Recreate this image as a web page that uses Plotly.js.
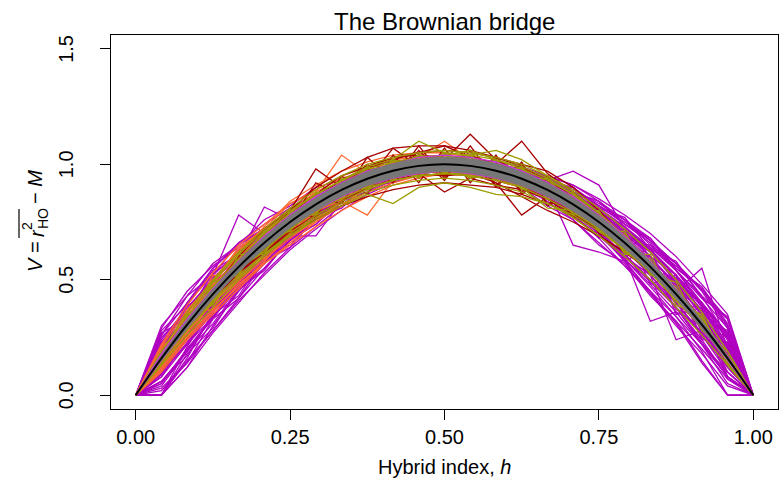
<!DOCTYPE html>
<html><head><meta charset="utf-8">
<script src="https://cdn.plot.ly/plotly-3.0.1.min.js"></script>
<style>body{margin:0;background:#fff}#plot{width:779px;height:485px}</style>
</head><body><div id="plot"></div>
<script>
// hybrid index grid (k/24)
const h = [0,0.0417,0.0833,0.125,0.1667,0.2083,0.25,0.2917,0.3333,0.375,0.4167,0.4583,0.5,0.5417,0.5833,0.625,0.6667,0.7083,0.75,0.7917,0.8333,0.875,0.9167,0.9583,1];
// expected curve and grey envelope
const expected = [0,0.1597,0.3056,0.4375,0.5556,0.6597,0.75,0.8264,0.8889,0.9375,0.9722,0.9931,1,0.9931,0.9722,0.9375,0.8889,0.8264,0.75,0.6597,0.5556,0.4375,0.3056,0.1597,0];
const bandUpper = [0,0.172,0.325,0.46,0.58,0.686,0.778,0.855,0.919,0.969,1.004,1.025,1.033,1.025,1.004,0.969,0.919,0.855,0.778,0.686,0.58,0.46,0.325,0.172,0];
const bandLower = [0,0.148,0.287,0.415,0.531,0.633,0.722,0.797,0.859,0.906,0.94,0.96,0.967,0.96,0.94,0.906,0.859,0.797,0.722,0.633,0.531,0.415,0.287,0.148,0];

const purplePaths = [
[0,0,.21,.38,.51,.62,.72,.81,.88,.94,.98,1.00,1.02,1.01,.98,.94,.88,.80,.70,.59,.47,.34,.19,0,0],
[0,.28,.39,.54,.61,.72,.78,.85,.91,.95,.99,1.00,1.01,1.01,.98,.96,.92,.88,.79,.73,.62,.52,.36,.20,0],
[0,.20,.30,.52,.78,.70,.74,.82,.90,.95,.98,1.00,1.01,1.00,.98,.95,.90,.84,.76,.66,.55,.43,.30,.15,0],
[0,.12,.28,.45,.60,.815,.76,.84,.89,.93,.97,.99,1.00,.99,.97,.93,.88,.82,.74,.64,.52,.40,.26,.10,0],
[0,.18,.33,.47,.58,.68,.77,.84,.90,.94,.97,.99,1.00,.99,.97,.94,.90,.83,.72,.60,.32,.36,.30,.12,0],
[0,.10,.25,.40,.53,.64,.73,.81,.88,.93,.96,.99,.99,.98,.96,.93,.88,.81,.73,.63,.52,.24,.28,.14,0],
[0,.14,.30,.42,.55,.65,.74,.82,.88,.93,.96,.98,.99,.98,.96,.93,.89,.84,.77,.68,.58,.45,.55,.20,0],
[0,.16,.32,.46,.57,.67,.76,.84,.90,.95,.98,1.00,1.01,1.00,.99,.96,.93,.97,.91,.72,.60,.47,.33,.18,0],
[0,.22,.36,.50,.60,.70,.79,.86,.92,.96,.99,1.01,1.02,1.01,.99,.96,.90,.65,.62,.58,.50,.40,.27,.13,0],
[0,.26,.40,.52,.62,.71,.77,.85,.90,.94,.96,.98,.99,.98,.96,.92,.87,.80,.73,.64,.55,.47,.36,.27,0],
[0,.05,.20,.33,.48,.60,.70,.79,.86,.92,.96,.98,.99,.99,.97,.94,.90,.85,.78,.70,.60,.48,.35,.20,0],
[0,.18,.40,.55,.65,.72,.80,.85,.90,.94,.97,.99,1.00,.99,.96,.93,.88,.82,.74,.66,.57,.46,.33,.28,0],
[0,.13,.26,.36,.50,.60,.69,.69,.84,.92,.96,.98,.99,.98,.95,.91,.86,.79,.71,.61,.50,.38,.24,.08,0],
[0,0,.16,.36,.48,.58,.70,.80,.87,.92,.95,.98,1.00,1.00,.98,.95,.91,.86,.80,.72,.63,.52,.38,.22,0],
[0,.20,.35,.42,.58,.69,.73,.81,.90,.95,.99,1.01,1.01,1.00,.98,.95,.90,.85,.76,.67,.58,.49,.40,.24,0],
[0,.15,.29,.49,.54,.63,.78,.84,.88,.93,.97,.99,1.00,.99,.97,.94,.91,.88,.80,.72,.62,.50,.34,.19,0],
[0,.24,.38,.50,.63,.72,.80,.86,.91,.95,.98,1.00,1.01,1.00,.98,.95,.90,.85,.79,.71,.63,.52,.40,.24,0],
[0,.08,.22,.36,.47,.58,.68,.77,.85,.91,.95,.98,.99,.98,.95,.91,.85,.78,.69,.59,.48,.36,.22,.08,0],
[0,.21,.33,.49,.57,.70,.76,.85,.89,.95,.97,1.00,1.00,.99,.96,.95,.88,.86,.74,.70,.55,.49,.30,.22,0],
[0,.11,.28,.39,.53,.61,.74,.79,.88,.92,.97,.98,1.00,.98,.97,.92,.90,.80,.77,.61,.58,.39,.33,.10,0],
[0,.27,.33,.51,.58,.71,.75,.86,.89,.95,.97,1.00,1.00,.99,.97,.94,.89,.84,.74,.69,.54,.51,.27,.26,0],
[0,.09,.30,.37,.55,.61,.75,.80,.89,.93,.97,.99,1.00,.98,.97,.93,.89,.81,.76,.62,.57,.37,.34,.07,0],
[0,.19,.39,.43,.62,.64,.79,.81,.91,.93,.98,.98,1.01,.99,.97,.93,.90,.82,.78,.63,.60,.41,.37,.14,0],
[0,.13,.24,.46,.50,.68,.71,.85,.87,.95,.96,1.00,.99,1.00,.96,.95,.88,.85,.72,.69,.52,.47,.25,.18,0],
[0,.25,.36,.48,.59,.67,.77,.83,.90,.94,.97,.99,1.00,.99,.97,.94,.89,.83,.76,.65,.52,.38,.22,.05,0],
[0,.06,.19,.34,.50,.63,.73,.82,.89,.94,.97,.99,1.00,.99,.97,.94,.90,.84,.78,.70,.62,.50,.39,.25,0],
[0,.17,.35,.53,.60,.66,.72,.80,.88,.93,.96,.99,.99,.98,.96,.93,.88,.80,.70,.60,.52,.49,.37,.21,0],
[0,.23,.29,.40,.52,.67,.79,.84,.90,.95,.98,1.00,1.01,1.00,.98,.95,.91,.86,.80,.70,.57,.40,.26,.12,0],
[0,.14,.33,.44,.61,.66,.76,.83,.89,.94,.97,.99,1.00,.99,.97,.94,.89,.82,.73,.66,.65,.54,.39,.19,0],
[0,0,.12,.30,.45,.57,.69,.78,.86,.92,.96,.98,.99,.98,.96,.92,.86,.79,.70,.58,.45,.31,.14,0,0],
[0,.26,.43,.52,.66,.72,.80,.87,.92,.97,.99,1.02,1.02,1.02,1.01,.99,.95,.91,.84,.76,.68,.54,.43,.25,0],
[0,.06,.19,.34,.48,.59,.69,.78,.85,.91,.95,.97,.98,.97,.94,.90,.84,.76,.66,.56,.44,.32,.20,.07,0],
[0,.22,.25,.50,.48,.72,.70,.86,.85,.96,.95,1.01,.98,1.01,.95,.97,.85,.88,.68,.72,.48,.52,.24,.23,0],
[0,.09,.36,.37,.63,.60,.80,.78,.93,.91,.99,.97,1.02,.96,.99,.91,.93,.77,.81,.58,.64,.35,.38,.08,0],
[0,.20,.40,.55,.66,.74,.81,.87,.92,.96,.98,1.00,1.00,.99,.96,.92,.86,.78,.68,.56,.45,.34,.22,.10,0],
[0,.12,.22,.34,.46,.58,.69,.78,.86,.92,.96,.98,1.00,1.00,.99,.97,.93,.88,.82,.74,.66,.54,.40,.24,0],
[0,.14,.27,.40,.52,.63,.73,.81,.87,.92,.95,.97,.98,.97,.95,.91,.86,.79,.70,.60,.49,.38,.27,.14,0],
[0,.29,.45,.56,.64,.70,.76,.83,.89,.94,.97,.99,1.00,.99,.97,.94,.89,.82,.72,.58,.44,.30,.18,.04,0],
[0,.03,.14,.28,.42,.55,.67,.78,.86,.92,.96,.98,1.00,.99,.97,.95,.92,.88,.82,.75,.67,.57,.45,.29,0],
[0,.18,.30,.38,.47,.57,.67,.76,.84,.90,.95,.98,1.00,1.00,.98,.96,.92,.86,.80,.72,.64,.56,.46,.30,0],
[0,0,.18,.29,.46,.54,.68,.74,.84,.88,.95,.96,1.00,.99,1.00,.96,.95,.88,.84,.74,.67,.55,.46,.30,0],
[0,.02,.14,.33,.42,.58,.64,.77,.81,.91,.92,.98,.98,1.01,.98,.98,.93,.90,.82,.76,.65,.57,.43,.33,0],
[0,.08,.25,.36,.52,.59,.72,.77,.87,.90,.96,.97,1.00,.99,.98,.95,.92,.85,.80,.69,.62,.49,.39,.22,0],
[0,.10,.22,.39,.48,.63,.69,.81,.85,.93,.95,.99,.99,1.00,.97,.96,.90,.87,.78,.72,.60,.52,.36,.25,0],
[0,.05,.20,.34,.47,.58,.68,.77,.84,.90,.95,.97,.99,1.00,.98,.96,.93,.87,.80,.72,.63,.52,.40,.27,0],
[0,.11,.26,.40,.52,.62,.72,.80,.87,.92,.96,.98,1.00,.99,.98,.95,.91,.85,.78,.69,.59,.48,.35,.21,0],
[0,0,.12,.27,.40,.53,.64,.73,.82,.88,.93,.97,.99,1.00,1.00,.98,.95,.91,.85,.78,.70,.60,.48,.35,0],
[0,.04,.19,.31,.46,.55,.67,.74,.85,.88,.95,.96,1.00,.99,.99,.96,.94,.88,.84,.74,.68,.55,.47,.31,0],
[0,.06,.17,.35,.43,.60,.65,.78,.82,.92,.93,.99,.98,1.01,.97,.98,.91,.90,.81,.77,.63,.58,.42,.34,0],
[0,.13,.24,.38,.49,.60,.70,.79,.86,.91,.95,.98,.99,.99,.98,.96,.92,.87,.81,.73,.64,.54,.42,.29,0],
[0,0,.15,.28,.41,.52,.63,.72,.80,.87,.92,.96,.98,.99,.99,.97,.94,.89,.83,.76,.67,.57,.46,.33,0],
[0,.09,.23,.37,.49,.60,.71,.78,.86,.90,.96,.97,1.00,.98,.98,.94,.92,.85,.80,.70,.63,.50,.40,.26,0],
[0,.30,.43,.57,.65,.76,.82,.90,.93,.98,.98,1.01,.99,.98,.93,.90,.82,.76,.65,.57,.43,.32,.15,0,0],
[0,.23,.37,.51,.60,.71,.79,.86,.92,.96,.98,1.00,1.00,.98,.96,.91,.86,.79,.70,.61,.50,.38,.23,.08,0]
];
const magentaPaths = [
[0,.17,.32,.46,.58,.69,.78,.86,.92,.97,1.00,1.02,1.03,1.02,1.00,.97,.92,.86,.78,.69,.58,.46,.32,.17,0],
[0,.15,.29,.42,.54,.64,.73,.80,.86,.91,.94,.96,.97,.96,.94,.91,.86,.80,.73,.64,.54,.42,.29,.15,0],
[0,.18,.33,.46,.58,.68,.78,.86,.92,.97,1.00,1.03,1.04,1.03,1.01,.97,.92,.85,.77,.67,.57,.45,.31,.16,0],
[0,.16,.30,.43,.54,.64,.73,.81,.87,.92,.95,.97,.98,.97,.95,.92,.87,.81,.73,.64,.54,.43,.30,.16,0]
];
const orangePaths = [
[0,.18,.34,.47,.60,.70,.80,.88,1.04,.96,.99,1.01,1.02,1.00,.97,.93,.88,.82,.74,.65,.55,.43,.30,.16,0],
[0,.14,.27,.40,.50,.60,.69,.75,.84,.78,.93,.97,.98,.98,.96,.93,.88,.82,.74,.65,.55,.43,.30,.16,0],
[0,.19,.35,.50,.63,.72,.80,.87,.93,.98,1.03,1.02,1.03,1.01,.98,.95,.90,.84,.76,.67,.57,.45,.31,.16,0],
[0,.13,.26,.38,.49,.59,.68,.76,.84,.91,.95,.97,.98,.97,.95,.92,.87,.81,.74,.65,.55,.43,.30,.16,0],
[0,.16,.33,.46,.57,.69,.78,.82,.90,.92,.98,1.00,1.04,1.02,.99,.95,.90,.84,.76,.67,.56,.44,.31,.16,0],
[0,.20,.31,.48,.55,.70,.74,.86,.88,.97,.95,.99,1.00,.99,.97,.94,.89,.83,.75,.66,.56,.44,.31,.16,0],
[0,.15,.29,.42,.54,.64,.73,.81,.87,.93,.99,1.03,1.10,1.02,.98,.94,.88,.82,.74,.65,.55,.43,.30,.16,0],
[0,.11,.25,.37,.47,.58,.70,.77,.82,.90,.96,.97,.96,.95,.93,.90,.86,.80,.73,.64,.54,.43,.30,.16,0],
[0,.19,.36,.50,.62,.71,.79,.86,.91,.95,.98,1.00,1.01,1.00,.97,.94,.89,.83,.75,.66,.56,.44,.31,.16,0],
[0,.13,.28,.40,.51,.61,.71,.79,.86,.91,.95,.98,.99,.99,.97,.94,.89,.83,.75,.66,.56,.44,.31,.16,0],
[0,.17,.30,.46,.55,.69,.74,.86,.87,.96,.96,1.01,.99,1.00,.96,.95,.88,.84,.74,.67,.55,.45,.30,.17,0],
[0,.21,.37,.49,.64,.72,.83,.88,.94,.97,1.01,1.02,1.03,1.01,.99,.95,.90,.84,.76,.67,.57,.45,.31,.16,0],
[0,.12,.25,.41,.50,.63,.70,.80,.84,.93,.94,.99,.98,.99,.95,.94,.88,.83,.74,.66,.55,.44,.30,.16,0],
[0,.18,.32,.43,.59,.65,.78,.81,.92,.92,1.00,.98,1.02,.98,.99,.93,.90,.82,.76,.65,.56,.43,.31,.15,0],
[0,.15,.34,.42,.58,.63,.76,.79,.91,.90,.99,.96,1.02,.97,.98,.92,.89,.82,.75,.65,.56,.44,.31,.16,0],
[0,.16,.29,.47,.53,.70,.72,.87,.86,.98,.95,1.03,.98,1.01,.96,.96,.88,.84,.74,.67,.55,.45,.30,.17,0],
[0,.22,.39,.53,.65,.74,.83,.89,.95,.99,1.02,1.03,1.04,1.02,.99,.96,.91,.85,.77,.67,.57,.45,.31,.16,0],
[0,.10,.24,.35,.46,.57,.66,.75,.82,.88,.92,.95,.96,.95,.93,.90,.85,.80,.72,.64,.54,.43,.30,.15,0],
[0,.21,.30,.52,.51,.73,.69,.88,.84,.99,.93,1.03,.96,1.02,.94,.97,.86,.85,.73,.67,.55,.45,.30,.16,0],
[0,.11,.36,.37,.61,.59,.81,.77,.94,.89,1.01,.95,1.04,.96,.99,.91,.92,.81,.77,.64,.57,.43,.32,.15,0],
[0,.18,.36,.48,.62,.73,.84,.91,.97,1.01,1.04,1.05,1.05,1.03,1.00,.96,.91,.85,.77,.67,.57,.45,.31,.16,0],
[0,.12,.25,.36,.48,.57,.65,.73,.80,.86,.91,.94,.96,.96,.94,.91,.87,.81,.74,.65,.55,.43,.30,.16,0],
[0,.16,.34,.44,.62,.64,.80,.80,.93,.90,1.00,.96,1.03,.97,.99,.92,.91,.82,.76,.65,.56,.44,.31,.16,0],
[0,.17,.27,.46,.51,.69,.70,.86,.85,.97,.94,1.02,.97,1.01,.95,.96,.87,.84,.74,.67,.55,.45,.30,.17,0]
];
const darkredPaths = [
[0,.16,.31,.44,.56,.66,.76,.84,.90,.96,1.00,1.04,1.02,1.13,1.02,.96,.90,.84,.76,.66,.56,.44,.31,.16,0],
[0,.16,.30,.43,.55,.65,.74,.82,.88,.94,.98,1.00,1.02,1.04,1.00,1.10,.96,.88,.78,.68,.57,.44,.31,.16,0],
[0,.16,.30,.43,.54,.64,.72,.80,.87,.92,.95,.96,.95,.96,.92,.78,.86,.78,.72,.64,.55,.43,.30,.16,0],
[0,.17,.32,.46,.60,.72,.80,.98,.90,.93,.96,.98,1.00,.99,.97,.94,.89,.83,.75,.66,.56,.44,.31,.16,0],
[0,.15,.29,.42,.53,.63,.72,.80,.87,.93,1.07,.99,1.01,.97,.94,.90,.86,.80,.72,.63,.55,.43,.30,.16,0],
[0,.15,.30,.42,.53,.62,.71,.78,.84,.90,.93,.96,.88,.94,.91,.89,.85,.80,.74,.65,.55,.43,.30,.16,0],
[0,.16,.31,.45,.57,.67,.77,.85,.92,.98,1.02,1.05,1.06,1.05,1.03,1.00,.97,.90,.80,.68,.56,.44,.31,.16,0],
[0,.16,.31,.44,.56,.66,.75,.83,.89,1.00,.93,1.06,.95,1.04,.91,1.00,.85,.88,.72,.66,.56,.44,.31,.16,0],
[0,.16,.31,.44,.56,.66,.75,.86,.83,.98,.92,1.04,.93,1.08,.93,.99,.83,.86,.72,.66,.56,.44,.31,.16,0],
[0,.16,.31,.44,.56,.66,.75,.80,.93,.89,1.02,.94,1.05,.94,1.03,.88,.94,.78,.77,.66,.56,.44,.31,.16,0],
[0,.16,.31,.44,.56,.66,.78,.87,.95,.99,1.03,1.05,1.08,1.03,.99,.93,.85,.77,.69,.62,.54,.44,.31,.16,0],
[0,.16,.31,.44,.57,.69,.80,.90,.97,1.03,1.07,1.08,1.08,1.06,1.03,.99,.93,.86,.77,.67,.56,.44,.31,.16,0],
[0,.16,.30,.42,.53,.62,.70,.76,.82,.86,.89,.91,.92,.91,.90,.87,.83,.78,.72,.64,.55,.44,.31,.16,0],
[0,.16,.31,.45,.58,.70,.75,.92,.86,1.03,.93,1.08,.94,1.06,.90,1.01,.82,.88,.70,.66,.56,.44,.31,.16,0],
[0,.16,.31,.44,.55,.63,.80,.77,.95,.87,1.04,.92,1.07,.92,1.04,.87,.95,.77,.80,.64,.56,.44,.31,.16,0],
[0,.16,.31,.44,.56,.67,.77,.86,.93,.99,1.03,1.04,1.03,.98,.92,.86,.80,.75,.69,.62,.54,.44,.31,.16,0]
];
const olivePaths = [
[0,.17,.33,.47,.59,.70,.79,.87,.93,.99,1.02,1.10,1.05,1.04,1.02,.98,.93,.87,.79,.69,.58,.46,.32,.17,0],
[0,.15,.29,.41,.52,.61,.69,.76,.82,.87,.83,.90,.92,.90,.87,.86,.83,.78,.71,.63,.54,.42,.30,.15,0],
[0,.16,.32,.45,.58,.68,.78,.86,.92,.97,1.00,1.02,1.03,1.04,1.06,1.02,.95,.88,.79,.69,.58,.45,.32,.16,0],
[0,.15,.30,.42,.54,.63,.72,.80,.85,.90,.93,.95,.96,.95,.93,.90,.85,.79,.72,.63,.53,.42,.29,.15,0],
[0,.17,.31,.46,.56,.68,.76,.84,.91,.95,.99,1.00,1.03,.99,.99,.94,.91,.82,.77,.66,.57,.44,.32,.16,0],
[0,.15,.31,.43,.57,.65,.76,.82,.90,.92,.98,.97,1.00,.97,.97,.92,.89,.81,.76,.64,.56,.43,.31,.15,0],
[0,.16,.31,.44,.56,.66,.75,.82,.88,.92,.95,.97,.98,.96,.94,.90,.81,.80,.72,.64,.54,.43,.30,.16,0],
[0,.17,.33,.46,.58,.69,.78,.86,.92,.96,1.00,1.03,1.04,1.06,1.02,.99,.94,.87,.78,.68,.58,.46,.32,.17,0],
[0,.18,.32,.47,.57,.70,.77,.87,.91,.98,.99,1.04,1.02,1.03,.99,.98,.91,.86,.77,.69,.57,.46,.31,.17,0],
[0,.14,.30,.41,.55,.62,.74,.79,.88,.90,.96,.95,.99,.94,.96,.90,.88,.79,.74,.62,.55,.41,.30,.14,0],
[0,.16,.33,.44,.59,.65,.79,.82,.93,.93,1.02,.98,1.05,.98,1.02,.93,.94,.82,.79,.65,.58,.44,.32,.16,0],
[0,.16,.29,.45,.53,.67,.71,.85,.85,.96,.93,1.01,.96,1.01,.93,.96,.85,.85,.71,.67,.53,.45,.29,.16,0],
[0,.17,.32,.46,.58,.69,.78,.85,.92,.96,1.00,1.01,1.03,1.01,1.00,.96,.92,.86,.78,.68,.58,.46,.32,.17,0],
[0,.15,.30,.42,.54,.64,.72,.80,.86,.91,.94,.96,.97,.96,.94,.91,.86,.80,.72,.63,.54,.42,.30,.15,0],
[0,.17,.31,.45,.55,.68,.74,.86,.88,.97,.96,1.03,.99,1.04,.96,.97,.87,.86,.73,.68,.55,.45,.30,.17,0],
[0,.15,.32,.43,.58,.64,.77,.80,.91,.91,.99,.95,1.02,.94,.99,.91,.91,.80,.77,.64,.57,.43,.32,.15,0],
[0,.19,.36,.50,.62,.72,.81,.89,.95,1.00,1.03,1.05,1.06,1.05,1.03,1.00,.95,.89,.81,.72,.62,.50,.36,.19,0],
[0,.13,.26,.38,.50,.60,.69,.77,.83,.88,.91,.93,.94,.93,.91,.88,.83,.77,.69,.60,.50,.38,.26,.13,0],
[0,.19,.28,.49,.52,.71,.71,.88,.85,.99,.93,1.04,.96,1.04,.93,.99,.85,.88,.71,.71,.52,.49,.28,.19,0],
[0,.13,.35,.39,.61,.61,.80,.78,.94,.89,1.02,.94,1.05,.94,1.02,.89,.94,.78,.80,.61,.61,.39,.35,.13,0],
[0,.18,.34,.49,.61,.71,.80,.87,.93,.98,1.01,1.03,1.04,1.02,.99,.95,.89,.82,.73,.63,.53,.41,.29,.15,0],
[0,.14,.28,.40,.51,.61,.70,.78,.84,.89,.93,.95,.96,.96,.95,.92,.88,.83,.76,.68,.58,.46,.33,.17,0],
[0,.17,.29,.47,.53,.70,.72,.86,.86,.97,.94,1.02,.97,1.02,.94,.97,.86,.86,.72,.70,.53,.47,.29,.17,0],
[0,.15,.34,.41,.59,.62,.78,.80,.92,.91,1.00,.96,1.03,.96,1.00,.91,.92,.80,.78,.62,.59,.41,.34,.15,0]
];

const xTicks = [0,0.25,0.5,0.75,1];
const xTickText = ['0.00','0.25','0.50','0.75','1.00'];
const yTicks = [0,0.5,1,1.5];
const yTickText = ['0.0','0.5','1.0','1.5'];

const FONT = 'Liberation Sans, Arial, Helvetica, sans-serif';
const traces = [];
function addGroup(paths, color, w){
  paths.forEach(p => traces.push({x:h, y:p, type:'scatter', mode:'lines',
    line:{color:color, width:w}, hoverinfo:'skip', showlegend:false}));
}
addGroup(purplePaths, '#B000C0', 1.3);
addGroup(orangePaths, '#FF6A30', 1.3);
addGroup(darkredPaths, '#A50000', 1.3);
addGroup(olivePaths, '#9C9C00', 1.3);
addGroup(magentaPaths, '#CC33DD', 1.3);
traces.push({x:h, y:bandLower, type:'scatter', mode:'lines', line:{color:'#777777', width:0, shape:'spline'}, hoverinfo:'skip', showlegend:false});
traces.push({x:h, y:bandUpper, type:'scatter', mode:'lines', fill:'tonexty', fillcolor:'#777777', line:{color:'#777777', width:0, shape:'spline'}, hoverinfo:'skip', showlegend:false});
traces.push({x:h, y:expected, type:'scatter', mode:'lines', line:{color:'#000000', width:2, shape:'spline'}, hoverinfo:'skip', showlegend:false});

const axisCommon = {showgrid:false, zeroline:false, showline:true, mirror:true, linecolor:'#000', linewidth:1,
  ticks:'outside', ticklen:10, tickwidth:1, tickcolor:'#000', tickfont:{family:FONT, size:20, color:'#000'}};

// pixel helpers for text placement (plot area: x 111..778, y 35..409)
const px = x => (x - 111) / 667;
const py = y => (409 - y) / 374;
function piece(text, x, y, size){
  return {text:text, xref:'paper', yref:'paper', x:px(x), y:py(y), xanchor:'center', yanchor:'middle',
    textangle:-90, showarrow:false, font:{family:FONT, size:size, color:'#000'}};
}
const yLabelAnn = yTicks.map((v, i) => ({text:yTickText[i], xref:'paper', yref:'y', x:px(66), y:v,
  xanchor:'center', yanchor:'middle', textangle:-90, showarrow:false, font:{family:FONT, size:20, color:'#000'}}));

const layout = {
  width:779, height:485,
  margin:{l:111, r:1, t:35, b:76},
  paper_bgcolor:'#fff', plot_bgcolor:'#fff',
  showlegend:false,
  xaxis:Object.assign({}, axisCommon, {range:[-0.04,1.04], tickmode:'array', tickvals:xTicks, ticktext:xTickText}),
  yaxis:Object.assign({}, axisCommon, {range:[-0.06,1.56], tickmode:'array', tickvals:yTicks, ticktext:yTickText, showticklabels:false}),
  annotations:[
    {text:'The Brownian bridge', xref:'paper', yref:'paper', x:0.5, y:1.037, xanchor:'center', yanchor:'middle', showarrow:false, font:{family:FONT, size:24, color:'#000'}},
    {text:'Hybrid index, <i>h</i>', xref:'paper', yref:'paper', x:0.5, y:-0.155, xanchor:'center', yanchor:'middle', showarrow:false, font:{family:FONT, size:20, color:'#000'}},
    piece('<i>V</i> =', 35, 257, 20),
    piece('<i>r</i>', 37, 233, 20),
    piece('2', 27, 226, 14),
    piece('HO', 43, 219, 14),
    piece('− <i>M</i>', 35, 187, 20)
  ].concat(yLabelAnn),
  shapes:[
    {type:'line', xref:'paper', yref:'paper', x0:px(19), x1:px(19), y0:py(238), y1:py(209), line:{color:'#000', width:1.2}}
  ]
};
Plotly.newPlot('plot', traces, layout, {staticPlot:true, displayModeBar:false});
</script>
</body></html>
